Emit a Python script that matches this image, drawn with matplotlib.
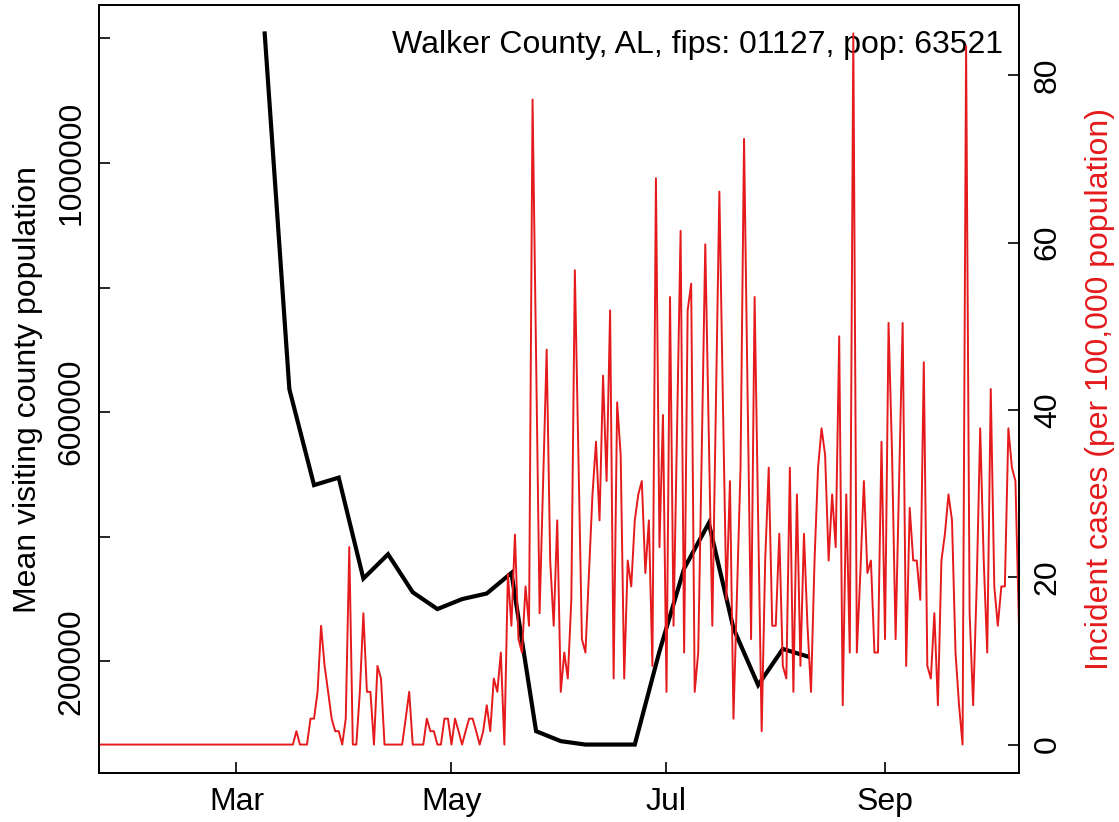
import numpy as np
import pandas as pd
import matplotlib
matplotlib.use('Agg')
import matplotlib.pyplot as plt
import matplotlib.dates as mdates
from matplotlib.ticker import FixedLocator, FixedFormatter

plt.rcParams['font.family'] = ['Liberation Sans', 'DejaVu Sans']

RED = '#E41A1C'
FS = 23

# daily incident cases per 100,000, starting 2020-01-22
case_start = '2020-01-22'
cases_jan_mar = [0.0] * 55          # Jan 22 .. Mar 16, flat zero
cases = cases_jan_mar + [
    0.0, 1.6, 0.0, 0.0, 0.0, 3.1, 3.1, 6.3, 14.2, 9.4,
    6.3, 3.1, 1.6, 1.6, 0.0, 3.1, 23.6, 0.0, 0.0, 6.3,
    15.7, 6.3, 6.3, 0.0, 9.4, 7.9, 0.0, 0.0, 0.0, 0.0,
    0.0, 0.0, 3.1, 6.3, 0.0, 0.0, 0.0, 0.0, 3.1, 1.6,
    1.6, 0.0, 0.0, 3.1, 3.1, 0.0, 3.1, 1.6, 0.0, 1.6,
    3.1, 3.1, 1.6, 0.0, 1.6, 4.7, 1.6, 7.9, 6.3, 11.0,
    0.0, 20.4, 14.2, 25.1, 12.6, 11.0, 18.9, 14.2, 77.1, 46.0,
    15.7, 31.5, 47.2, 22.0, 14.2, 26.8, 6.3, 11.0, 7.9, 17.3,
    56.7, 34.6, 12.6, 11.0, 20.5, 29.9, 36.2, 26.8, 44.1, 31.5,
    51.9, 7.9, 40.9, 34.6, 7.9, 22.0, 18.9, 26.8, 29.9, 31.5,
    20.5, 26.8, 9.4, 67.7, 23.6, 39.4, 6.3, 53.5, 14.2, 37.8,
    61.4, 11.0, 51.9, 55.1, 6.3, 11.0, 35.0, 59.8, 37.0, 14.2,
    40.0, 66.1, 41.0, 17.3, 31.5, 3.1, 18.0, 33.0, 72.4, 42.0,
    12.6, 53.5, 27.0, 1.6, 22.0, 33.1, 14.2, 14.2, 25.2, 9.4,
    7.9, 33.1, 6.3, 29.9, 9.4, 25.2, 14.2, 6.3, 22.0, 33.1,
    37.8, 34.6, 22.0, 29.9, 23.6, 48.8, 4.7, 29.9, 11.0, 85.0,
    11.0, 20.5, 31.5, 20.5, 22.0, 11.0, 11.0, 36.2, 12.6, 50.4,
    34.6, 12.6, 31.5, 50.4, 9.4, 28.3, 22.0, 22.0, 17.3, 45.7,
    9.4, 7.9, 15.7, 4.7, 22.0, 25.2, 29.9, 26.8, 11.0, 4.7,
    0.0, 83.5, 15.7, 4.7, 18.9, 37.8, 22.0, 11.0, 42.5, 18.9,
    14.2, 18.9, 18.9, 37.8, 33.1, 31.5, 14.2,
]

# weekly mean visiting county population, starting 2020-03-09
visit_start = '2020-03-09'
visitors = [
    1208000, 637000, 483000, 495000, 333000, 372000, 311000, 284000,
    300000, 309000, 342000, 88000, 72000, 66500, 66500, 66500,
    216000, 349000, 422000, 253000, 162000, 220000, 208000,
]

title = 'Walker County, AL, fips: 01127, pop: 63521'

case_dates = pd.date_range(case_start, periods=len(cases), freq='D')
visit_dates = pd.date_range(visit_start, periods=len(visitors), freq='7D')

fig = plt.figure(figsize=(11.19, 8.22), dpi=100)
ax = fig.add_axes([0.0885, 0.0596, 0.8221, 0.9343])

ax.plot(visit_dates, visitors, color='black', lw=3, solid_joinstyle='miter')
ax.set_xlim(pd.Timestamp('2020-01-22'), pd.Timestamp('2020-10-09'))
lo, hi = min(visitors), max(visitors)
pad = 0.04 * (hi - lo)
ax.set_ylim(lo - pad, hi + pad)

ax.yaxis.set_major_locator(FixedLocator([200000, 400000, 600000, 800000, 1000000, 1200000]))
ax.yaxis.set_major_formatter(FixedFormatter(['200000', '', '600000', '', '1000000', '']))
for lab in ax.get_yticklabels():
    lab.set_rotation(90)
    lab.set_va('center')
ax.set_ylabel('Mean visiting county population', fontsize=FS, va='center')
ax.yaxis.set_label_coords(-0.0772, 0.5)

ax.xaxis.set_major_locator(mdates.MonthLocator(bymonth=[3, 5, 7, 9]))
ax.xaxis.set_major_formatter(mdates.DateFormatter('%b'))

ax.tick_params(axis='both', direction='in', length=8, width=1.2, labelsize=FS)
ax.tick_params(axis='y', pad=9)
ax.tick_params(axis='x', pad=10)
for s in ax.spines.values():
    s.set_linewidth(1.3)

ax2 = ax.twinx()
ax2.plot(case_dates, cases, color=RED, lw=1.4)
cmax = max(cases)
ax2.set_ylim(-0.04 * cmax, 1.04 * cmax)
ax2.set_yticks([0, 20, 40, 60, 80])
ax2.tick_params(axis='y', direction='in', length=8, width=1.2, labelsize=FS, pad=10)
for lab in ax2.get_yticklabels():
    lab.set_rotation(90)
    lab.set_va('center')
ax2.set_ylabel('Incident cases (per 100,000 population)', color=RED, fontsize=FS,
               rotation=90, va='center')
ax2.yaxis.set_label_coords(1.088, 0.5)
for s in ax2.spines.values():
    s.set_linewidth(1.3)

ax.text(0.9826, 0.948, title, transform=ax.transAxes, ha='right', va='center',
        fontsize=FS, zorder=5)

fig.savefig('out.png', dpi=100)
